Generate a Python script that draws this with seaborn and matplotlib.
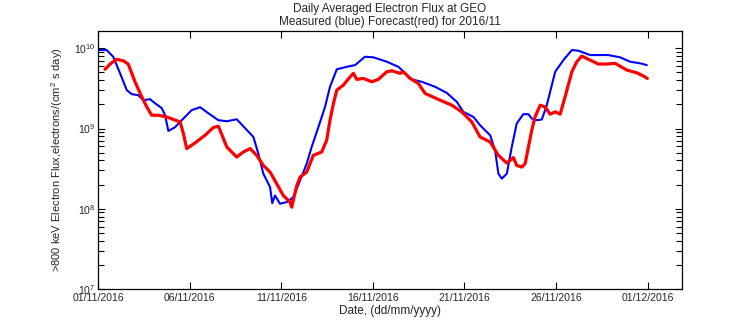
import numpy as np
import pandas as pd
import matplotlib
matplotlib.use('Agg')
import matplotlib.pyplot as plt
import seaborn as sns
from matplotlib.ticker import LogLocator, LogFormatterSciNotation, NullFormatter

# ---------------- data ----------------
start_date = pd.Timestamp('2016-11-01')

# days since 01/11/2016 and log10 of flux
measured_day = [0.02, 0.47, 0.83, 1.20, 1.57, 1.84, 2.20, 2.47, 2.84, 3.11, 3.48, 3.66, 3.84,
                4.20, 4.57, 5.11, 5.57, 6.02, 6.57, 7.03, 7.57, 7.93, 8.48, 8.75, 9.02, 9.39,
                9.51, 9.66, 9.93, 10.30, 10.66, 11.03, 11.39, 11.66, 12.03, 12.39, 12.66, 13.03,
                13.58, 14.03, 14.57, 15.03, 15.76, 16.39, 17.12, 17.67, 18.40, 19.03, 19.58,
                19.94, 20.49, 20.85, 21.40, 21.67, 21.85, 22.04, 22.31, 22.58, 22.85, 23.21,
                23.49, 23.67, 23.95, 24.22, 24.49, 24.95, 25.40, 25.86, 26.22, 26.86, 27.85,
                28.49, 29.04, 29.59, 29.95]
measured_log10 = [9.979, 9.979, 9.895, 9.691, 9.479, 9.429, 9.416, 9.354, 9.366, 9.316, 9.254,
                  9.166, 8.970, 9.016, 9.104, 9.229, 9.266, 9.191, 9.104, 9.091, 9.116, 9.029,
                  8.895, 8.688, 8.438, 8.270, 8.070, 8.166, 8.063, 8.083, 8.145, 8.354, 8.563,
                  8.770, 9.020, 9.270, 9.520, 9.738, 9.770, 9.791, 9.895, 9.888, 9.833, 9.770,
                  9.613, 9.583, 9.520, 9.445, 9.333, 9.208, 9.145, 9.041, 8.916, 8.729, 8.438,
                  8.375, 8.438, 8.770, 9.063, 9.179, 9.179, 9.125, 9.104, 9.113, 9.291, 9.708,
                  9.854, 9.979, 9.970, 9.916, 9.916, 9.888, 9.833, 9.813, 9.791]

forecast_day = [0.38, 0.66, 1.02, 1.38, 1.65, 2.02, 2.39, 2.66, 2.93, 3.29, 3.75, 4.11, 4.48,
                4.66, 4.84, 5.29, 5.84, 6.29, 6.57, 7.03, 7.57, 7.93, 8.30, 8.66, 9.02, 9.39,
                9.75, 10.11, 10.48, 10.57, 10.85, 11.03, 11.39, 11.75, 12.21, 12.48, 12.66,
                12.85, 13.03, 13.39, 13.76, 13.94, 14.12, 14.48, 14.94, 15.30, 15.76, 16.03,
                16.48, 16.66, 17.03, 17.48, 17.85, 18.58, 19.31, 19.85, 20.40, 20.85, 21.40,
                21.85, 22.31, 22.67, 22.85, 23.13, 23.31, 23.49, 23.67, 23.85, 24.13, 24.40,
                24.67, 24.95, 25.22, 25.49, 25.86, 26.13, 26.40, 26.76, 27.31, 27.77, 28.22,
                28.86, 29.40, 29.77, 29.98]
forecast_log10 = [9.738, 9.804, 9.863, 9.845, 9.804, 9.583, 9.395, 9.270, 9.166, 9.166, 9.145,
                  9.113, 9.083, 8.938, 8.750, 8.820, 8.916, 9.013, 9.029, 8.770, 8.645, 8.708,
                  8.750, 8.666, 8.541, 8.458, 8.313, 8.166, 8.083, 8.020, 8.291, 8.395, 8.458,
                  8.666, 8.708, 8.854, 9.104, 9.313, 9.479, 9.541, 9.645, 9.688, 9.613, 9.625,
                  9.583, 9.613, 9.708, 9.720, 9.688, 9.708, 9.625, 9.563, 9.438, 9.363, 9.291,
                  9.208, 9.083, 8.895, 8.833, 8.666, 8.570, 8.638, 8.541, 8.520, 8.563, 8.770,
                  8.979, 9.145, 9.291, 9.270, 9.179, 9.208, 9.179, 9.395, 9.708, 9.833, 9.904,
                  9.863, 9.804, 9.804, 9.813, 9.729, 9.695, 9.654, 9.625]

tick_days = [0, 5, 10, 15, 20, 25, 30]
tick_labels = ['01/11/2016', '06/11/2016', '11/11/2016', '16/11/2016',
               '21/11/2016', '26/11/2016', '01/12/2016']

title_text = 'Daily Averaged Electron Flux at GEO\nMeasured (blue) Forecast(red) for 2016/11'
xlabel_text = 'Date, (dd/mm/yyyy)'
ylabel_text = r'>800 keV Electron Flux,electrons/(cm$^2$ s day)'

# ---------------- styling ----------------
sns.set_style('white')
plt.rcParams['font.family'] = ['Liberation Sans', 'DejaVu Sans']
plt.rcParams['mathtext.fontset'] = 'custom'
plt.rcParams['mathtext.rm'] = 'Liberation Sans'
plt.rcParams['mathtext.it'] = 'Liberation Sans'
plt.rcParams['font.size'] = 8

def to_dates(days):
    return start_date + pd.to_timedelta(np.asarray(days), unit='D')

df_meas = pd.DataFrame({'date': to_dates(measured_day),
                        'flux': 10 ** np.asarray(measured_log10)})
df_fc = pd.DataFrame({'date': to_dates(forecast_day),
                      'flux': 10 ** np.asarray(forecast_log10)})

fig = plt.figure(figsize=(7.56, 3.24), dpi=100)
ax = fig.add_axes([98 / 756, 1 - 289 / 324, (682 - 98) / 756, (289 - 31) / 324])

sns.lineplot(data=df_meas, x='date', y='flux', color='#0000ff', lw=1.5,
             estimator=None, sort=False, ax=ax)
sns.lineplot(data=df_fc, x='date', y='flux', color='#ff0000', lw=2.3,
             estimator=None, sort=False, ax=ax)

ax.set_yscale('log')
ax.set_ylim(1e7, 10 ** 10.216)
ax.set_xlim(start_date, start_date + pd.Timedelta(days=31.87))

ax.set_xticks(list(to_dates(tick_days)))
ax.set_xticklabels(tick_labels, fontsize=7.5)

ax.yaxis.set_major_locator(LogLocator(base=10, numticks=10))
ax.yaxis.set_major_formatter(LogFormatterSciNotation())
ax.yaxis.set_minor_locator(LogLocator(base=10, subs=np.arange(2, 10), numticks=20))
ax.yaxis.set_minor_formatter(NullFormatter())

ax.tick_params(axis='both', which='both', direction='in', top=True, right=True,
               bottom=True, left=True, color='black', width=0.8, labelsize=7.5, pad=2)
ax.tick_params(axis='x', which='major', pad=3)
ax.tick_params(axis='both', which='major', length=5)
ax.tick_params(axis='y', which='minor', length=4)

for sp in ax.spines.values():
    sp.set_color('black')
    sp.set_linewidth(0.9)
    sp.set_visible(True)

ax.set_title(title_text, fontsize=8.5, pad=4, linespacing=1.15)
ax.set_xlabel(xlabel_text, fontsize=8.5, labelpad=1)
ax.set_ylabel(ylabel_text, fontsize=8, labelpad=6)
ax.grid(False)

fig.savefig('out.png', dpi=100)
